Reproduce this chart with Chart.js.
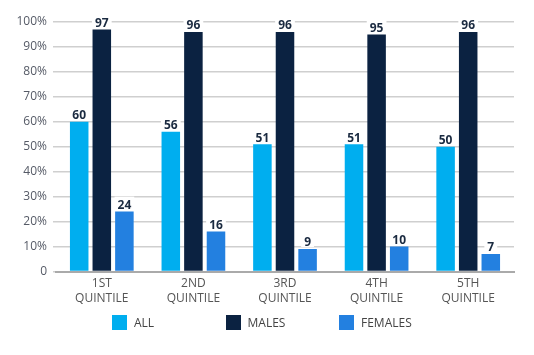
<!DOCTYPE html>
<html><head><meta charset="utf-8">
<script src="https://cdn.jsdelivr.net/npm/chart.js@4/dist/chart.umd.min.js"></script>
<style>
html,body{margin:0;padding:0;background:#fff;}
#wrap{position:relative;width:534px;height:355px;}
#legend{position:absolute;left:112px;top:314px;display:flex;font-family:"Open Sans",sans-serif;font-size:12px;color:#444;}
#legend .it{width:113.5px;display:flex;align-items:center;height:16px;}
#legend .sw{width:15px;height:15px;margin-right:7px;flex:none;}
</style>
</head><body><div id="wrap"><canvas id="c" width="534" height="355"></canvas><div id="legend"></div></div>
<script>
const categories = [["1ST","QUINTILE"],["2ND","QUINTILE"],["3RD","QUINTILE"],["4TH","QUINTILE"],["5TH","QUINTILE"]];
const seriesNames = ["ALL","MALES","FEMALES"];
const allValues = [60,56,51,51,50];
const malesValues = [97,96,96,95,96];
const femalesValues = [24,16,9,10,7];
const colors = ["#00AEEF","#0B2241","#2380E0"];

const valueLabels = {
  id:'valueLabels',
  afterDatasetsDraw(chart){
    const ctx = chart.ctx;
    ctx.save();
    ctx.font = 'bold 12px "Open Sans", sans-serif';
    ctx.textAlign = 'center';
    ctx.textBaseline = 'bottom';
    chart.data.datasets.forEach((ds,i)=>{
      const meta = chart.getDatasetMeta(i);
      meta.data.forEach((bar,j)=>{
        const t=String(ds.data[j]);
        const w=ctx.measureText(t).width;
        ctx.fillStyle='#fff';
        ctx.fillRect(bar.x-w/2-3,bar.y-15,w+6,13);
        ctx.fillStyle='#1a2a40';
        ctx.fillText(t, bar.x, bar.y);
      });
    });
    ctx.restore();
  }
};

const chart = new Chart(document.getElementById('c'),{
  type:'bar',
  data:{
    labels:categories,
    datasets:[
      {label:seriesNames[0],data:allValues,backgroundColor:colors[0]},
      {label:seriesNames[1],data:malesValues,backgroundColor:colors[1]},
      {label:seriesNames[2],data:femalesValues,backgroundColor:colors[2]}
    ]
  },
  options:{
    responsive:false,
    animation:false,
    layout:{padding:{top:22,right:20,left:0,bottom:0}},
    datasets:{bar:{categoryPercentage:0.74,barPercentage:0.82}},
    scales:{
      x:{
        grid:{display:false,drawTicks:false},
        border:{color:'#aaaaaa',width:2},
        ticks:{color:'#555',font:{family:'"Open Sans", sans-serif',size:12,lineHeight:1.3},padding:4},
        afterFit(s){ s.height = 83.5; }
      },
      y:{
        min:0,max:100,
        grid:{color:'#cfcfcf',lineWidth:1.5,drawTicks:true,tickLength:3},
        border:{display:false},
        ticks:{stepSize:10,color:'#555a66',padding:6,font:{family:'"Open Sans", sans-serif',size:12},
          callback:v=> v===0?'0':v+'%'},
        afterFit(s){ s.width = 56; }
      }
    },
    plugins:{
      legend:{display:false},
      tooltip:{enabled:false}
    }
  },
  plugins:[valueLabels]
});

const lg = document.getElementById('legend');
chart.data.datasets.forEach(ds=>{
  const it=document.createElement('div');it.className='it';
  const sw=document.createElement('span');sw.className='sw';sw.style.background=ds.backgroundColor;
  const tx=document.createElement('span');tx.textContent=ds.label;
  it.appendChild(sw);it.appendChild(tx);lg.appendChild(it);
});
</script></body></html>
